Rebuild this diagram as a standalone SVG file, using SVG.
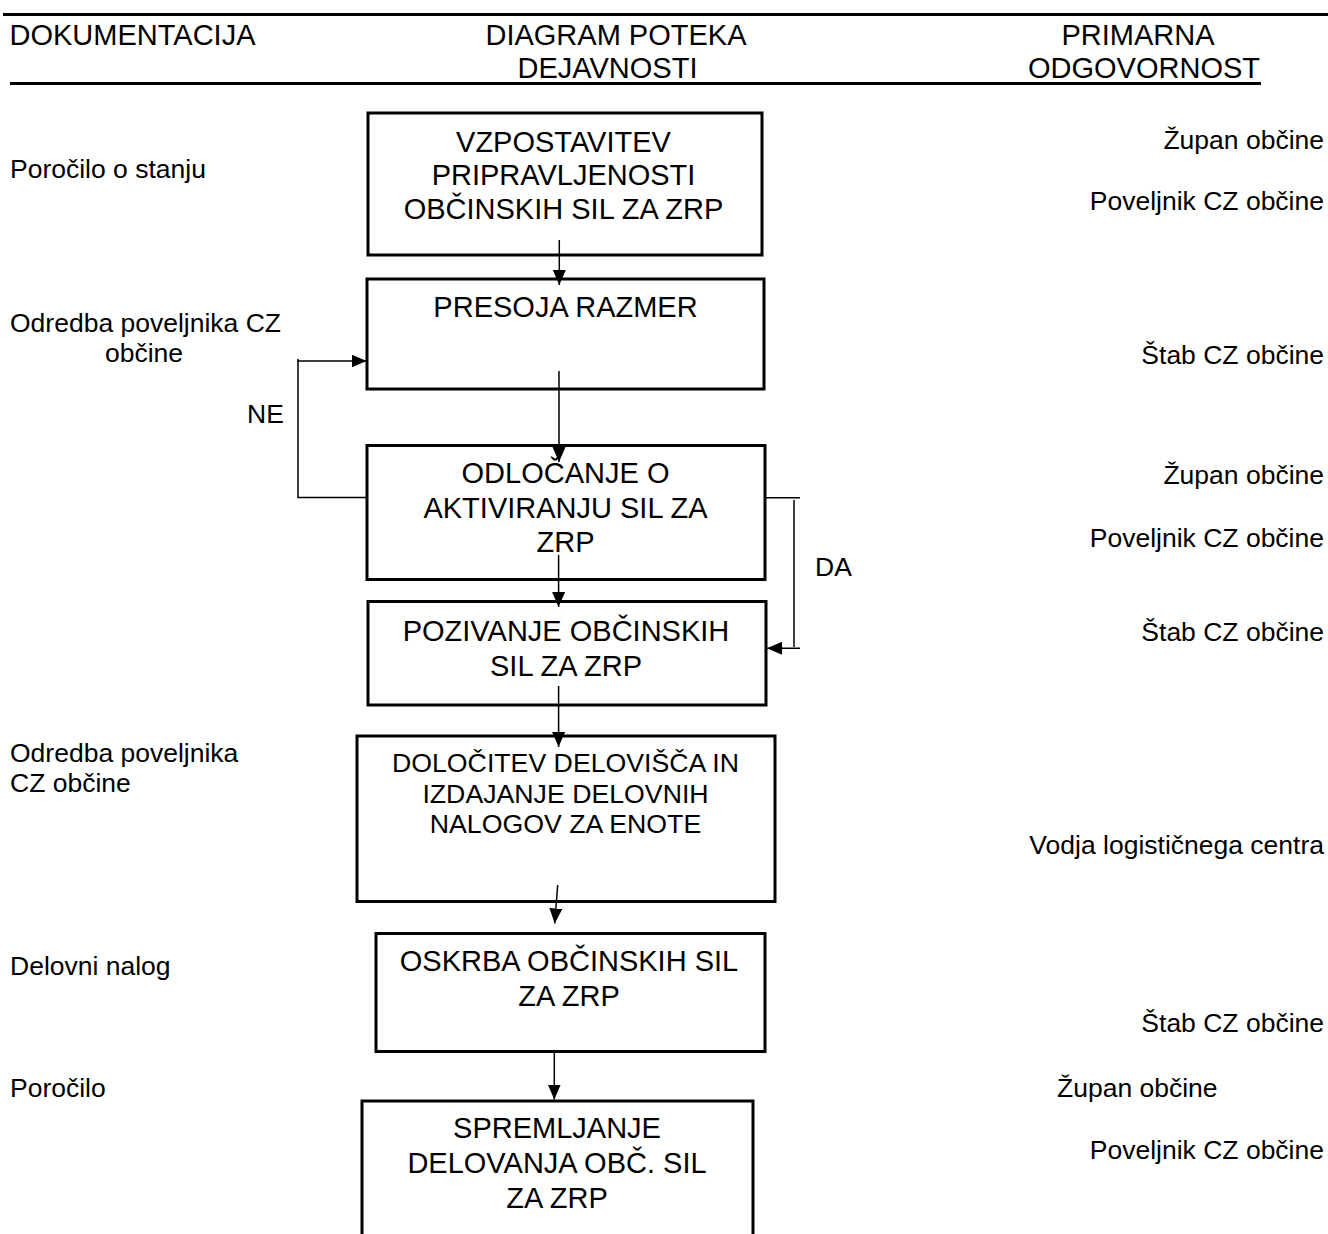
<svg xmlns="http://www.w3.org/2000/svg" width="1328" height="1234" viewBox="0 0 1328 1234">
<style>
text{font-family:"Liberation Sans",Arial,sans-serif;fill:#000}
.h{font-size:29px}
.b{font-size:29px;text-anchor:middle}
.b5{font-size:26.7px;text-anchor:middle}
.l{font-size:26.5px}
.r{font-size:26.5px;text-anchor:end}
.box{fill:none;stroke:#000;stroke-width:3}
.c{fill:none;stroke:#000;stroke-width:1.5}
</style>
<defs>
<marker id="ah" markerUnits="userSpaceOnUse" markerWidth="16" markerHeight="14" refX="15" refY="6.5" orient="auto">
<path d="M0,0 L15,6.5 L0,13 z" fill="#000"/>
</marker>
</defs>
<rect width="1328" height="1234" fill="#fff"/>
<g id="header">
<line x1="3" y1="14.5" x2="1328" y2="14.5" stroke="#000" stroke-width="3"/>
<line x1="10" y1="83.5" x2="1261" y2="83.5" stroke="#000" stroke-width="3"/>
<text class="h" x="9.5" y="45">DOKUMENTACIJA</text>
<text class="h" x="616" y="45" text-anchor="middle">DIAGRAM POTEKA</text>
<text class="h" x="607.5" y="78" text-anchor="middle">DEJAVNOSTI</text>
<text class="h" x="1138" y="45" text-anchor="middle">PRIMARNA</text>
<text class="h" x="1144" y="78" text-anchor="middle">ODGOVORNOST</text>
</g>
<g id="left-labels">
<text class="l" x="10" y="177.5">Poročilo o stanju</text>
<text class="l" x="10" y="331.7">Odredba poveljnika CZ</text>
<text class="l" x="144" y="361.7" text-anchor="middle">občine</text>
<text class="l" x="247" y="422.7">NE</text>
<text class="l" x="815" y="575.7">DA</text>
<text class="l" x="10" y="761.7">Odredba poveljnika</text>
<text class="l" x="10" y="791.7">CZ občine</text>
<text class="l" x="10" y="975">Delovni nalog</text>
<text class="l" x="10" y="1096.7">Poročilo</text>
</g>
<g id="right-labels">
<text class="r" x="1324" y="149">Župan občine</text>
<text class="r" x="1324" y="209.5">Poveljnik CZ občine</text>
<text class="r" x="1324" y="364">Štab CZ občine</text>
<text class="r" x="1324" y="484">Župan občine</text>
<text class="r" x="1324" y="547">Poveljnik CZ občine</text>
<text class="r" x="1324" y="641">Štab CZ občine</text>
<text class="r" x="1324" y="854">Vodja logističnega centra</text>
<text class="r" x="1324" y="1032">Štab CZ občine</text>
<text class="l" x="1057" y="1096.7">Župan občine</text>
<text class="r" x="1324" y="1159">Poveljnik CZ občine</text>
</g>
<g id="node1">
<rect class="box" x="368" y="113" width="394" height="142"/>
<text class="b" x="563.5" y="151.7">VZPOSTAVITEV</text>
<text class="b" x="563.5" y="185">PRIPRAVLJENOSTI</text>
<text class="b" x="563.5" y="219.3">OBČINSKIH SIL ZA ZRP</text>
</g>
<g id="node2">
<rect class="box" x="367" y="279" width="397" height="110"/>
<text class="b" x="565.5" y="316.7">PRESOJA RAZMER</text>
</g>
<g id="node3">
<rect class="box" x="367" y="445.5" width="398" height="134"/>
<text class="b" x="565.5" y="483.3">ODLOČANJE O</text>
<text class="b" x="565.5" y="518.3">AKTIVIRANJU SIL ZA</text>
<text class="b" x="565.5" y="551.7">ZRP</text>
</g>
<g id="node4">
<rect class="box" x="368" y="601.5" width="398" height="103.5"/>
<text class="b" x="566" y="641">POZIVANJE OBČINSKIH</text>
<text class="b" x="566" y="676">SIL ZA ZRP</text>
</g>
<g id="node5">
<rect class="box" x="357" y="736" width="418" height="165.5"/>
<text class="b5" x="565.5" y="771.7">DOLOČITEV DELOVIŠČA IN</text>
<text class="b5" x="565.5" y="802.7">IZDAJANJE DELOVNIH</text>
<text class="b5" x="565.5" y="833.3">NALOGOV ZA ENOTE</text>
</g>
<g id="node6">
<rect class="box" x="376" y="933.5" width="389" height="118"/>
<text class="b" x="569" y="971">OSKRBA OBČINSKIH SIL</text>
<text class="b" x="569" y="1006">ZA ZRP</text>
</g>
<g id="node7">
<path class="box" d="M362,1240 V1101 H753 V1240"/>
<text class="b" x="557" y="1138.3">SPREMLJANJE</text>
<text class="b" x="557" y="1173">DELOVANJA OBČ. SIL</text>
<text class="b" x="557" y="1208">ZA ZRP</text>
</g>
<g id="connectors">
<line class="c" x1="559.3" y1="240" x2="559.3" y2="285" marker-end="url(#ah)"/>
<line class="c" x1="559" y1="371" x2="559" y2="462" marker-end="url(#ah)"/>
<line class="c" x1="558.6" y1="555" x2="558.6" y2="607" marker-end="url(#ah)"/>
<line class="c" x1="558.6" y1="686" x2="558.6" y2="747" marker-end="url(#ah)"/>
<line class="c" x1="557.7" y1="885" x2="554.7" y2="923.5" marker-end="url(#ah)"/>
<line class="c" x1="554.3" y1="1052" x2="554.3" y2="1099.5" marker-end="url(#ah)"/>
<polyline class="c" points="367,497.5 298,497.5 298,359"/>
<line class="c" x1="297.3" y1="361" x2="366.5" y2="361" marker-end="url(#ah)"/>
<line class="c" x1="765" y1="497.7" x2="800" y2="497.7"/>
<line class="c" x1="794" y1="500" x2="794" y2="647"/>
<line class="c" x1="800" y1="648.3" x2="767" y2="648.3" marker-end="url(#ah)"/>
</g>
</svg>
